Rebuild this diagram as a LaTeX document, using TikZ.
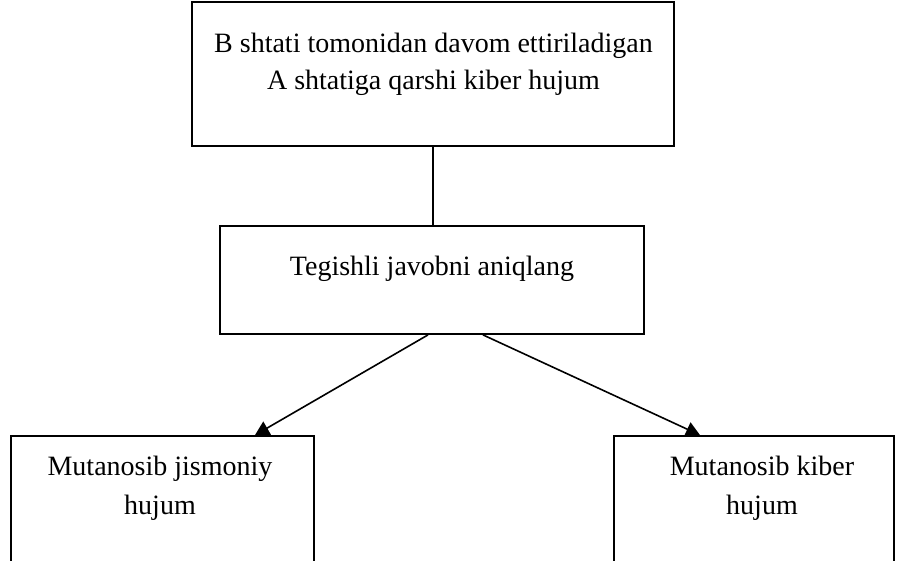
\documentclass[tikz,border=0pt]{standalone}
\usepackage{fontspec}
\setmainfont{Liberation Serif}
\usetikzlibrary{arrows.meta}
\begin{document}
\begin{tikzpicture}[x=1pt,y=-1pt,
  boxstyle/.style={draw, line width=1.8pt, rectangle, inner sep=0pt},
  txt/.style={anchor=base, inner sep=0pt, font=\fontsize{28}{37}\selectfont},
  link/.style={line width=1.8pt},
  arr/.style={line width=1.6pt, -{Triangle[length=14pt,width=15pt]}}]
  \useasboundingbox (0,0) rectangle (904,561);
  \clip (0,0) rectangle (904,561);

  % boxes
  \node[boxstyle, minimum width=482pt, minimum height=144pt] (top) at (433,74) {};
  \node[boxstyle, minimum width=424pt, minimum height=108pt] (mid) at (432,280) {};
  \node[boxstyle, minimum width=303pt, minimum height=160pt] (lbox) at (162.5,516) {};
  \node[boxstyle, minimum width=280pt, minimum height=160pt] (rbox) at (754,516) {};

  % texts
  \node[txt] (topA) at (433.5,53) {B shtati tomonidan davom ettiriladigan};
  \node[txt] (topB) at (433.5,90) {A shtatiga qarshi kiber hujum};
  \node[txt] (midT) at (432,276) {Tegishli javobni aniqlang};
  \node[txt] (lA) at (160,475) {Mutanosib jismoniy};
  \node[txt] (lB) at (160,514) {hujum};
  \node[txt] (rA) at (762,475) {Mutanosib kiber};
  \node[txt] (rB) at (762,514) {hujum};

  % connectors
  \draw[link] (top.south) -- (top.south |- mid.north);
  \draw[arr] ([xshift=-4pt]mid.south) -- ([xshift=92.5pt]lbox.north);
  \draw[arr] ([xshift=51pt]mid.south) -- ([xshift=-54pt]rbox.north);
\end{tikzpicture}
\end{document}
